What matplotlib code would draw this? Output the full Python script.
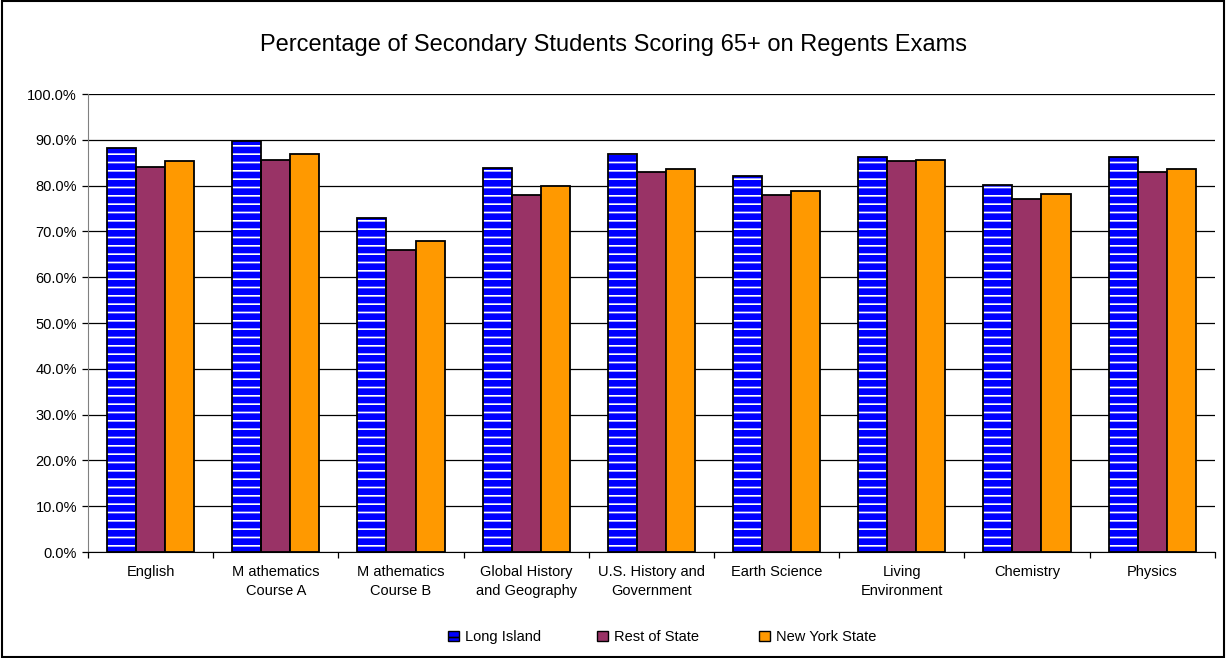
import matplotlib
matplotlib.use("Agg")
import matplotlib.pyplot as plt
import numpy as np
from matplotlib.patches import Rectangle, Patch
from matplotlib.ticker import FuncFormatter, FixedLocator

plt.rcParams['font.family'] = ['Liberation Sans', 'DejaVu Sans']

categories = ["English", "M athematics\nCourse A", "M athematics\nCourse B",
              "Global History\nand Geography", "U.S. History and\nGovernment",
              "Earth Science", "Living\nEnvironment", "Chemistry", "Physics"]
long_island = [88.2, 89.8, 72.9, 83.8, 87.0, 82.2, 86.2, 80.2, 86.2]
rest_of_state = [84.1, 85.7, 65.9, 78.0, 83.0, 78.0, 85.4, 77.2, 83.0]
new_york_state = [85.4, 87.0, 67.9, 80.0, 83.7, 78.9, 85.7, 78.1, 83.7]
series_names = ["Long Island", "Rest of State", "New York State"]

blue = "#0000FF"
purple = "#993366"
orange = "#FF9900"

plt.rcParams['hatch.color'] = 'white'
plt.rcParams['hatch.linewidth'] = 1.2

fig = plt.figure(figsize=(12.26, 6.58), dpi=100)
ax = fig.add_axes([0.0718, 0.161, 0.919, 0.696])

x = np.arange(len(categories))
w = 0.232

# striped blue bars: hatch drawn in white, then black outline on top
ax.bar(x - w, long_island, w, color=blue, edgecolor='white', hatch='--',
       linewidth=0, zorder=3)
ax.bar(x - w, long_island, w, fill=False, edgecolor='black', linewidth=1.3,
       zorder=4)
ax.bar(x, rest_of_state, w, color=purple, edgecolor='black', linewidth=1.3,
       zorder=3)
ax.bar(x + w, new_york_state, w, color=orange, edgecolor='black',
       linewidth=1.3, zorder=3)

ax.set_xlim(-0.5, len(categories) - 0.5)
ax.set_ylim(0, 100)
ax.set_yticks(np.arange(0, 101, 10))
ax.yaxis.set_major_formatter(FuncFormatter(lambda v, p: f"{v:.1f}%"))
ax.yaxis.grid(True, color='black', linewidth=0.9, zorder=0)
ax.set_axisbelow(True)

ax.set_xticks(x)
ax.set_xticklabels(categories, fontsize=10.5, linespacing=1.45)
ax.tick_params(axis='x', length=0, pad=9)
ax.xaxis.set_minor_locator(FixedLocator(np.arange(-0.5, len(categories), 1.0)))
ax.tick_params(axis='x', which='minor', length=4, width=0.9, direction='out')
ax.tick_params(axis='y', labelsize=10.5, length=4, width=0.9, direction='out',
               pad=4)

for s in ['top', 'right']:
    ax.spines[s].set_visible(False)
ax.spines['left'].set_color('#808080')
ax.spines['bottom'].set_color('black')

fig.suptitle("Percentage of Secondary Students Scoring 65+ on Regents Exams",
             y=0.948, fontsize=17)

handles = [Patch(facecolor=blue, edgecolor='black', hatch='--', linewidth=1.0),
           Patch(facecolor=purple, edgecolor='black', linewidth=1.0),
           Patch(facecolor=orange, edgecolor='black', linewidth=1.0)]
legend_x = [448, 597, 759]
for h, name, lx in zip(handles, series_names, legend_x):
    fig.legend([h], [name], loc='center left',
               bbox_to_anchor=(lx / 1226, 0.032), frameon=False,
               fontsize=10.5, handlelength=0.75, handleheight=0.75,
               handletextpad=0.4, borderpad=0, borderaxespad=0)

fig.patches.append(Rectangle((0.002, 0.002), 0.996, 0.996,
                             transform=fig.transFigure, fill=False,
                             edgecolor='black', linewidth=1.5))

fig.savefig("out.png", dpi=100, facecolor='white')
